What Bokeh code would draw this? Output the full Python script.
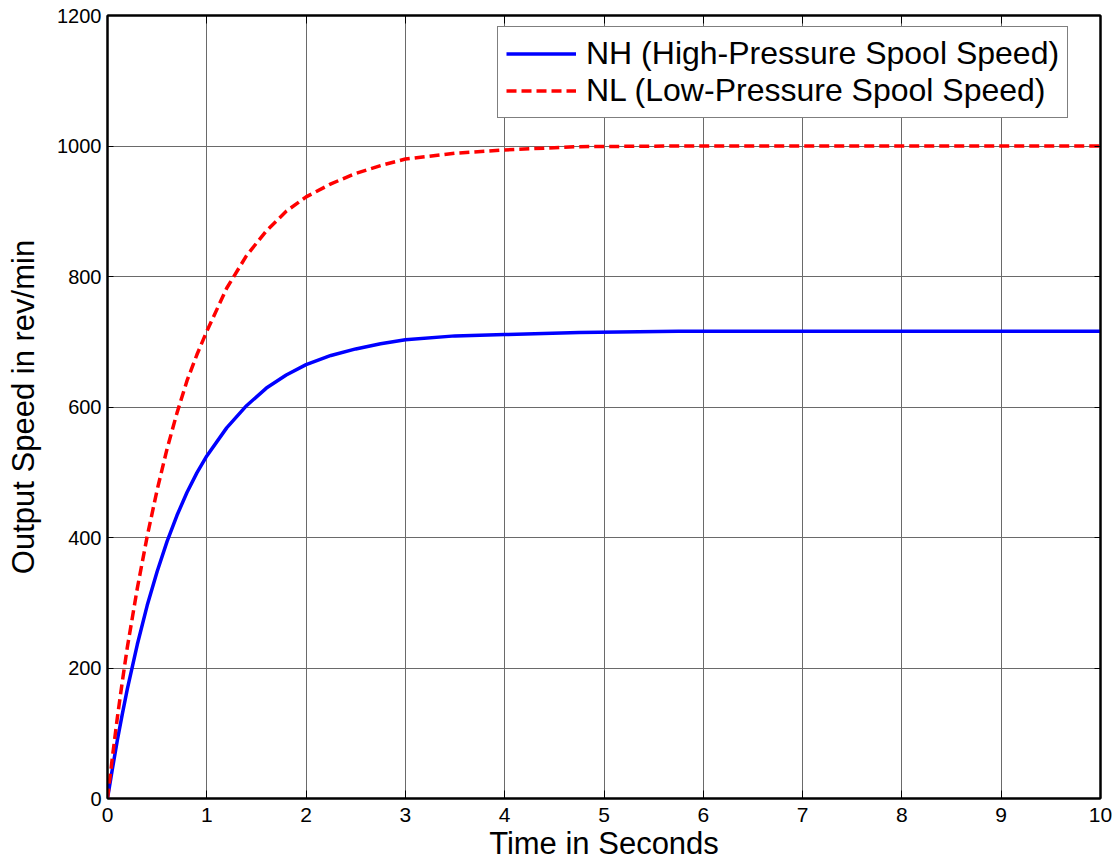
from bokeh.plotting import figure
from bokeh.models import (Range1d, LinearAxis, FixedTicker, Legend, LegendItem,
                          CustomJSTickFormatter)
from bokeh.embed import file_html
from bokeh.resources import INLINE

# ---- data ----
time_s = [0, 0.05, 0.1, 0.15, 0.2, 0.3, 0.4, 0.5, 0.6, 0.7, 0.8, 0.9, 1.0, 1.2, 1.4,
          1.6, 1.8, 2.0, 2.25, 2.5, 2.75, 3.0, 3.5, 4.0, 4.75, 5.75, 7.0, 8.5, 10.0]
nh_speed = [0, 46, 90, 130, 168, 236, 296, 348, 394, 434, 469, 499, 525, 568, 602,
            629, 649, 665, 679, 689, 697, 703, 709, 711, 714, 716, 716, 716, 716]
nl_speed = [0, 64, 125, 180, 232, 322, 402, 473, 536, 591, 640, 680, 716, 782, 832,
            870, 900, 922, 942, 958, 970, 980, 989, 994, 999, 1000, 1000, 1000, 1000]

x_ticks = [0, 1, 2, 3, 4, 5, 6, 7, 8, 9, 10]
y_ticks = [0, 200, 400, 600, 800, 1000, 1200]

series_labels = ["NH (High-Pressure Spool Speed)", "NL (Low-Pressure Spool Speed)"]
x_title = "Time in Seconds"
y_title = "Output Speed in rev/min"

FONT = "Liberation Sans"

p = figure(width=1115, height=867, output_backend="svg", toolbar_location=None,
           x_range=Range1d(0, 10), y_range=Range1d(0, 1200),
           min_border_left=107, min_border_right=15, min_border_top=15, min_border_bottom=69)

p.background_fill_color = "white"
p.border_fill_color = "white"
p.outline_line_color = "black"
p.outline_line_width = 2

# axes
xa = p.xaxis[0]
ya = p.yaxis[0]
xa.ticker = FixedTicker(ticks=x_ticks)
ya.ticker = FixedTicker(ticks=y_ticks)
for ax in (xa, ya):
    ax.axis_line_color = "black"
    ax.axis_line_width = 2
    ax.major_tick_out = 0
    ax.minor_tick_in = 0
    ax.minor_tick_out = 0
    ax.major_tick_line_color = "black"
    ax.major_label_text_font = FONT
    ax.major_label_text_color = "black"
    ax.axis_label_text_font = FONT
    ax.axis_label_text_font_size = "31px"
    ax.axis_label_text_font_style = "normal"
    ax.axis_label_text_color = "black"
xa.major_tick_in = 8
ya.major_tick_in = 6
xa.major_label_text_font_size = "21px"
ya.major_label_text_font_size = "20px"
xa.major_label_standoff = 9
ya.major_label_standoff = 6

xa.axis_label = x_title
xa.axis_label_standoff = 1
ya.axis_label = y_title
ya.axis_label_standoff = 13

# mirrored ticks on top and right
for side in ("above", "right"):
    ax2 = LinearAxis(ticker=FixedTicker(ticks=x_ticks if side == "above" else y_ticks),
                     formatter=CustomJSTickFormatter(code="return ''"))
    ax2.major_tick_in = 8 if side == "above" else 6
    ax2.major_tick_out = 0
    ax2.minor_tick_in = 0
    ax2.minor_tick_out = 0
    ax2.major_label_standoff = 0
    ax2.major_label_text_font_size = "1px"
    ax2.axis_line_color = "black"
    ax2.axis_line_width = 2
    p.add_layout(ax2, side)

# grid
p.xgrid.ticker = FixedTicker(ticks=x_ticks)
p.ygrid.ticker = FixedTicker(ticks=y_ticks)
for g in (p.xgrid[0], p.ygrid[0]):
    g.grid_line_color = "#6a6a6a"
    g.grid_line_width = 1

# lines
r_nh = p.line(time_s, nh_speed, line_color="#0000ff", line_width=3.5)
r_nl = p.line(time_s, nl_speed, line_color="#ff0000", line_width=3.5, line_dash="10 5")

legend = Legend(items=[LegendItem(label=series_labels[0], renderers=[r_nh]),
                       LegendItem(label=series_labels[1], renderers=[r_nl])],
                location=(390, 680))
legend.label_text_font = FONT
legend.label_text_font_size = "32px"
legend.label_text_color = "black"
legend.glyph_width = 70
legend.glyph_height = 37
legend.label_height = 37
legend.label_standoff = 10
legend.padding = 8
legend.spacing = 0
legend.margin = 0
legend.border_line_color = "black"
legend.border_line_width = 1
legend.background_fill_color = "white"
legend.background_fill_alpha = 1.0
p.add_layout(legend)

open("out.html", "w").write(file_html(p, INLINE))
